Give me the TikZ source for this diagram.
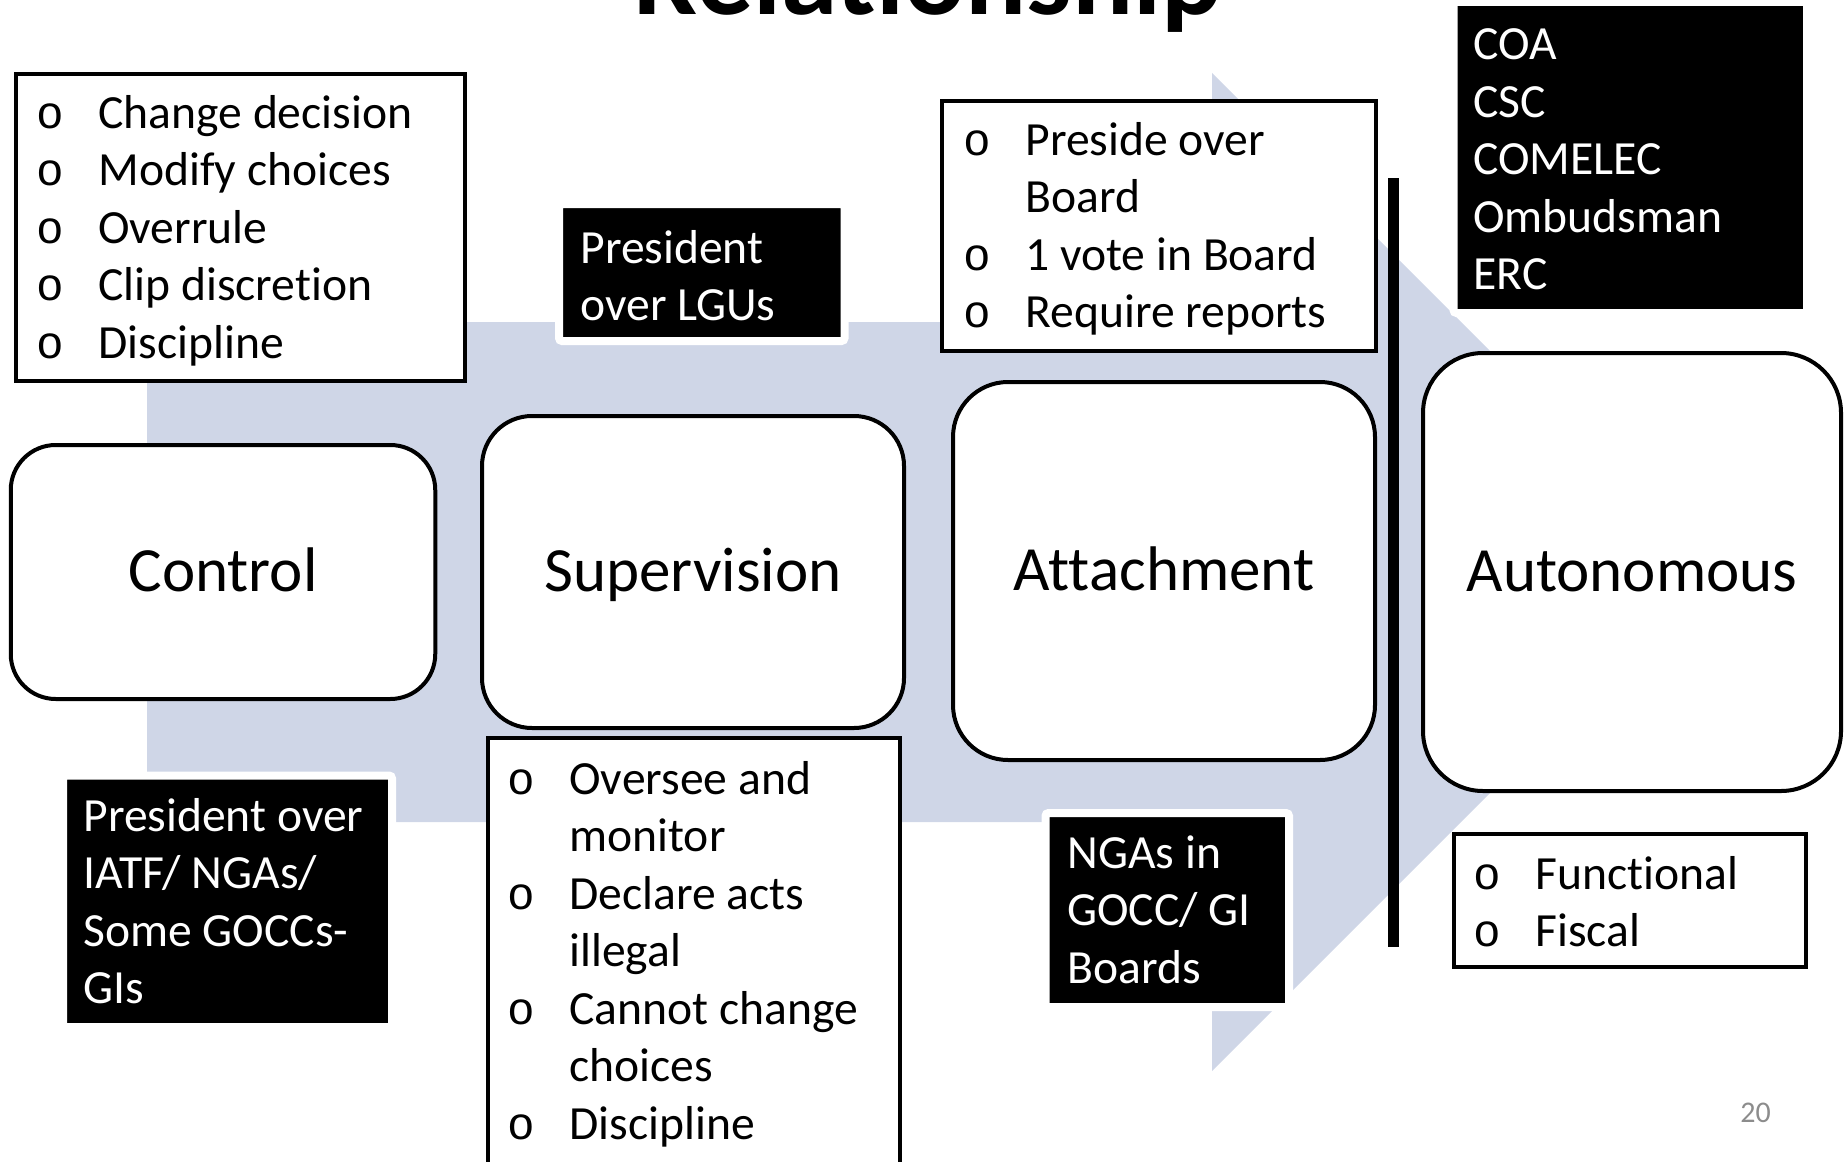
\documentclass[tikz,border=0pt]{standalone}
\usepackage{fontspec}
\setmainfont{Carlito}[Ligatures=NoCommon]
\newfontfamily\bulletfont{Liberation Mono}
\usetikzlibrary{positioning}
\usetikzlibrary{shadows}
\definecolor{arrowblue}{RGB}{207,214,231}
\definecolor{pagegray}{RGB}{140,140,140}
\newcommand{\itm}{\makebox[31pt][l]{{\bulletfont\fontsize{23}{23}\selectfont o}}}
\newcommand{\cnt}{\hspace*{31pt}}
\tikzset{
  stage/.style={draw, fill=white, line width=2pt, font=\fontsize{31.5}{36}\selectfont, text height=25pt, text depth=6pt},
  listbox/.style={draw, fill=white, line width=2pt, inner sep=0pt},
  darkbox/.style={fill=black, draw=white, line width=4pt, rounded corners=1.5pt, inner sep=0pt,
    drop shadow={shadow xshift=0.5pt, shadow yshift=-1.5pt, opacity=0.3}},
  listtext/.style={anchor=base west, inner sep=0pt, align=left, font=\fontsize{23.8}{28.75}\selectfont},
  darktext/.style={listtext, text=white}
}
\begin{document}
\begin{tikzpicture}[x=0.5pt, y=-0.5pt]
		\useasboundingbox (0,0) rectangle (1845,1161);
		% big background arrow
		\fill[arrowblue] (147,322) -- (1212,322) -- (1212,73) -- (1711,572) -- (1212,1071) -- (1212,822) -- (147,822) -- cycle;
		\node (title) [anchor=base, inner sep=0pt, font=\fontsize{57}{60}\selectfont\bfseries] at (928,15) {Relationship};
		% the four stages
		\node (control) [stage, rounded corners=22.5pt, minimum width=212.25pt, minimum height=127pt] at (223,572) {Control};
		\node (super) [stage, rounded corners=25pt, minimum width=211pt, minimum height=156pt] at (693,572) {Supervision};
		\node (attach) [stage, rounded corners=27.5pt, minimum width=211pt, minimum height=189pt] at (1164,571) {Attachment};
		\node (auto) [stage, rounded corners=30pt, minimum width=209pt, minimum height=219pt] at (1632,572) {Autonomous};
		% bullet lists (base = last line)
		\node (ctrllist) [listbox, minimum width=224.5pt, minimum height=153.5pt] at (240.5,227.5) {};
		\node (ctrlitems) [listtext] at (36,358) {\itm Change decision\\ \itm Modify choices\\ \itm Overrule\\ \itm Clip discretion\\ \itm Discipline};
		\node (attlist) [listbox, minimum width=217pt, minimum height=125pt] at (1159,226) {};
		\node (attitems) [listtext] at (963,327.5) {\itm Preside over\\ \cnt Board\\ \itm 1 vote in Board\\ \itm Require reports};
		\node (suplist) [listbox, minimum width=206pt, minimum height=231pt] at (694,969) {};
		\node (supitems) [listtext] at (507,1139) {\itm Oversee and\\ \cnt monitor\\ \itm Declare acts\\ \cnt illegal\\ \itm Cannot change\\ \cnt choices\\ \itm Discipline};
		\node (autlist) [listbox, minimum width=176pt, minimum height=66.5pt] at (1630,900.5) {};
		\node (autitems) [listtext] at (1473,946.5) {\itm Functional\\ \itm Fiscal};
		% black boxes
		\node (lgu) [darkbox, minimum width=142.75pt, minimum height=68.5pt] at (701.75,272.5) {};
		\node (lgutext) [darktext] at (580,320.5) {President\\ over LGUs};
		\node (iatf) [darkbox, minimum width=164.5pt, minimum height=125.75pt] at (227.5,901.25) {};
		\node (iatftext) [darktext] at (83,1003.5) {President over\\ IATF/ NGAs/\\ Some GOCCs-\\ GIs};
		\node (ngas) [darkbox, minimum width=121.75pt, minimum height=97pt] at (1167.25,910) {};
		\node (ngastext) [darktext] at (1067,983) {NGAs in\\ GOCC/ GI\\ Boards};
		\node (coa) [darkbox, minimum width=176.75pt, minimum height=155.5pt] at (1630.25,157.5) {};
		\node (coatext) [darktext] at (1473,289.5) {COA\\ CSC\\ COMELEC\\ Ombudsman\\ ERC};
		% divider before autonomous
		\coordinate (septop) at (1393,178);
		\coordinate (sepbot) at (1393,947);
		\draw[line width=5.5pt] (septop) -- (sepbot);
		\node (pagenum) [anchor=base west, inner sep=0pt, text=pagegray, font=\fontsize{15}{18}\selectfont] at (1740,1122) {20};
\end{tikzpicture}
\end{document}
